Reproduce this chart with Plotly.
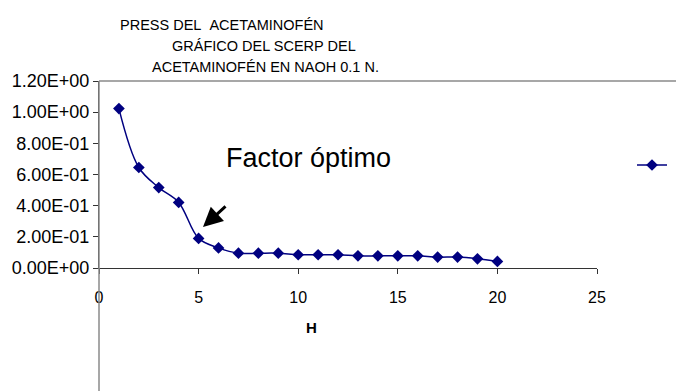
import plotly.graph_objects as go

h_values = list(range(1, 21))
press_values = [1.023, 0.645, 0.516, 0.421, 0.190, 0.129, 0.095, 0.095, 0.095, 0.085,
                0.085, 0.085, 0.078, 0.078, 0.078, 0.078, 0.070, 0.070, 0.059, 0.042]
y_tickvals = [0, 0.2, 0.4, 0.6, 0.8, 1.0, 1.2]
y_ticktext = ["0.00E+00", "2.00E-01", "4.00E-01", "6.00E-01", "8.00E-01", "1.00E+00", "1.20E+00"]
x_tickvals = [0, 5, 10, 15, 20, 25]
title_lines = ["PRESS DEL\u00a0\u00a0ACETAMINOFÉN", "GRÁFICO DEL SCERP DEL", "ACETAMINOFÉN EN NAOH 0.1 N."]

L, R, T, B = 99, 597, 81, 268
W, H = 676, 391
def px(x):
    return (x - L) / (R - L)
def py(y):
    return (B - y) / (B - T)

navy = "#000080"
fig = go.Figure()
fig.add_trace(go.Scatter(
    x=h_values, y=press_values, mode="lines+markers", name=" ",
    line=dict(color=navy, width=1.5, shape="spline", smoothing=1.0),
    marker=dict(symbol="diamond", size=9, color=navy),
))

font = "Arial, Liberation Sans, sans-serif"
annotations = []
title_pos = [(221.5, 25.5), (263.5, 46.5), (265.5, 67.5)]
for t, (x, y) in zip(title_lines, title_pos):
    annotations.append(dict(text=t, x=px(x), y=py(y), xref="paper", yref="paper",
                            xanchor="center", yanchor="middle", showarrow=False,
                            font=dict(family=font, size=14.5, color="black")))
annotations.append(dict(text="Factor óptimo", x=px(308.5), y=py(158), xref="paper", yref="paper",
                        xanchor="center", yanchor="middle", showarrow=False,
                        font=dict(family=font, size=27, color="black")))
annotations.append(dict(text="<b>H</b>", x=px(311), y=py(327), xref="paper", yref="paper",
                        xanchor="center", yanchor="middle", showarrow=False,
                        font=dict(family=font, size=15, color="black")))
# arrow pointing to optimum factor
annotations.append(dict(text="", x=px(203), y=py(227), ax=24, ay=-22,
                        xref="paper", yref="paper", axref="pixel", ayref="pixel",
                        showarrow=True, arrowhead=2, arrowsize=1.3, arrowwidth=3,
                        arrowcolor="black"))

shapes = [
    dict(type="line", xref="paper", yref="paper", x0=0, x1=px(676), y0=1, y1=1,
         line=dict(color="#8a8a8a", width=1.5)),
    dict(type="line", xref="paper", yref="paper", x0=0, x1=0, y0=1, y1=py(391),
         line=dict(color="#8a8a8a", width=1.5)),
]

fig.update_layout(
    width=W, height=H,
    margin=dict(l=L, r=W - R, t=T, b=H - B, autoexpand=False),
    paper_bgcolor="white", plot_bgcolor="white",
    font=dict(family=font, color="black"),
    annotations=annotations, shapes=shapes,
    showlegend=True,
    legend=dict(x=px(632), y=py(165), xanchor="left", yanchor="middle",
                bgcolor="rgba(0,0,0,0)", font=dict(size=10)),
    xaxis=dict(range=[0, 25], tickvals=x_tickvals, showgrid=False, zeroline=False,
               showline=True, linecolor="#333333", linewidth=1.2,
               ticks="outside", ticklen=5, tickcolor="#333333",
               tickfont=dict(family=font, size=16, color="black"), ticklabelstandoff=10),
    yaxis=dict(range=[0, 1.2], tickvals=y_tickvals, ticktext=y_ticktext, showgrid=False,
               zeroline=False, showline=True, linecolor="#333333", linewidth=1.2,
               ticks="outside", ticklen=5, tickcolor="#333333",
               tickfont=dict(family=font, size=18, color="black")),
)
fig.write_html("out.html")
